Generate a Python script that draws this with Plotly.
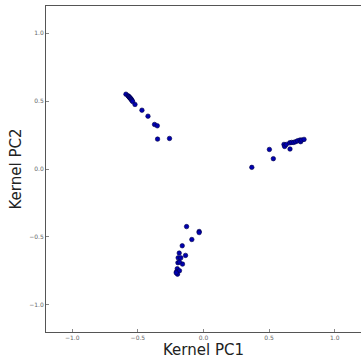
import plotly.graph_objects as go

pc1 = [-0.591, -0.575, -0.570, -0.565, -0.560, -0.558, -0.552, -0.550, -0.545, -0.540,
       -0.522, -0.469, -0.423, -0.373, -0.352, -0.350, -0.259,
       0.368, 0.502, 0.532, 0.613, 0.618, 0.631, 0.659, 0.657, 0.672, 0.687, 0.702,
       0.717, 0.735, 0.740, 0.748, 0.766,
       -0.129, -0.033, -0.033, -0.089, -0.162, -0.185, -0.137, -0.193, -0.173, -0.160,
       -0.195, -0.183, -0.200, -0.205, -0.183, -0.198, -0.208]
pc2 = [0.551, 0.539, 0.534, 0.529, 0.524, 0.521, 0.515, 0.512, 0.504, 0.497,
       0.475, 0.433, 0.389, 0.328, 0.318, 0.220, 0.225,
       0.012, 0.144, 0.076, 0.181, 0.166, 0.181, 0.147, 0.193, 0.196, 0.196, 0.201,
       0.208, 0.213, 0.201, 0.213, 0.218,
       -0.424, -0.460, -0.468, -0.519, -0.565, -0.619, -0.636, -0.654, -0.654, -0.700,
       -0.690, -0.685, -0.734, -0.756, -0.749, -0.774, -0.764]

tickvals = [-1.0, -0.5, 0.0, 0.5, 1.0]
ticktext = ["\u22121.0", "\u22120.5", "0.0", "0.5", "1.0"]

fig = go.Figure(go.Scatter(
    x=pc1, y=pc2, mode="markers",
    marker=dict(size=4.5, color="#0000b0", line=dict(color="#000044", width=0.6)),
))

axis_common = dict(
    range=[-1.2, 1.2], tickvals=tickvals, ticktext=ticktext,
    showgrid=False, zeroline=False, showline=True, linecolor="#555555", linewidth=1,
    ticks="inside", ticklen=3, tickcolor="#888888",
    tickfont=dict(family="DejaVu Sans", size=6, color="#666666"),
)

fig.update_layout(
    width=361, height=359,
    margin=dict(l=46, r=0, t=6, b=27),
    plot_bgcolor="white", paper_bgcolor="white",
    showlegend=False,
    xaxis=dict(**axis_common, mirror=True,
               title=dict(text="Kernel PC1", standoff=4,
                          font=dict(family="DejaVu Sans", size=15, color="#222222"))),
    yaxis=dict(**axis_common, mirror=False,
               title=dict(text="Kernel PC2", standoff=3,
                          font=dict(family="DejaVu Sans", size=15, color="#222222"))),
)

fig.write_html("out.html")
